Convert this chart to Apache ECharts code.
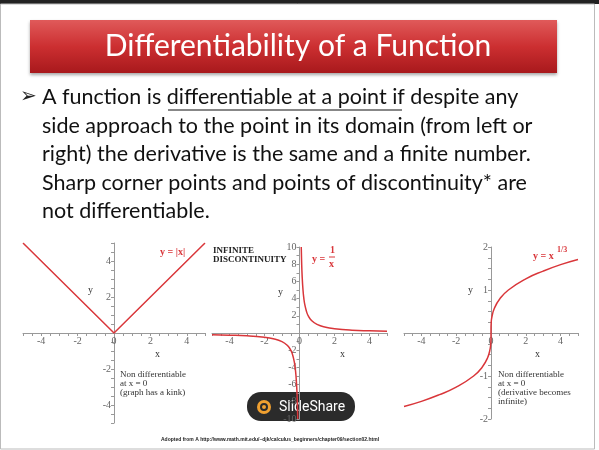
<!DOCTYPE html>
<html lang="en">
<head>
<meta charset="UTF-8">
<title>Differentiability of a Function</title>
<script src="https://cdn.jsdelivr.net/npm/echarts@6/dist/echarts.min.js"></script>
<style>html,body{margin:0;padding:0;background:#fff}</style>
</head>
<body>
<div id="main" style="width:599px;height:450px;"></div>
<script>
var chart = echarts.init(document.getElementById('main'));

// y = |x|
const absX = [-5, 0, 5];
const absY = [5, 0, 5];
// y = 1/x
const invNegX = [-5, -4, -3, -2, -1.5, -1, -0.7, -0.5, -0.4, -0.3, -0.25, -0.2, -0.15, -0.12, -0.1];
const invNegY = [-0.2, -0.25, -0.33, -0.5, -0.67, -1, -1.43, -2, -2.5, -3.33, -4, -5, -6.67, -8.33, -10];
const invPosX = [0.1, 0.12, 0.15, 0.2, 0.25, 0.3, 0.4, 0.5, 0.7, 1, 1.5, 2, 3, 4, 5];
const invPosY = [10, 8.33, 6.67, 5, 4, 3.33, 2.5, 2, 1.43, 1, 0.67, 0.5, 0.33, 0.25, 0.2];
// y = x^(1/3)
const cbrtX = [-5, -4, -3, -2, -1, -0.5, -0.2, -0.05, -0.01, -0.001, 0, 0.001, 0.01, 0.05, 0.2, 0.5, 1, 2, 3, 4, 5];
const cbrtY = [-1.71, -1.59, -1.44, -1.26, -1, -0.79, -0.58, -0.37, -0.22, -0.1, 0, 0.1, 0.22, 0.37, 0.58, 0.79, 1, 1.26, 1.44, 1.59, 1.71];

const xLabels = [-4, -2, 0, 2, 4];
const y1Labels = [-4, -2, 2, 4];
const y2Labels = [-10, -8, -6, -4, -2, 2, 4, 6, 8, 10];
const y3Labels = [-2, -1, 1, 2];

const bodyLines = [
  'A function is differentiable at a point if despite any',
  'side approach to the point in its domain (from left or',
  'right) the derivative is the same and a finite number.',
  'Sharp corner points and points of discontinuity* are',
  'not differentiable.'
];

function pairs(xs, ys) { return xs.map((x, i) => [x, ys[i]]); }
function steps(a, b, s) { const r = []; for (let v = a; v <= b + 1e-9; v += s) r.push(+v.toFixed(2)); return r; }

const serif = '"Liberation Serif", "DejaVu Serif", serif';
const grids = [
  { left: 23, top: 243, width: 182, height: 180 },
  { left: 212, top: 247, width: 175, height: 172 },
  { left: 404, top: 247, width: 174, height: 172 }
];
function xAxis(gi) {
  return {
    gridIndex: gi, type: 'value', min: -5, max: 5, position: 'bottom', offset: -grids[gi].height / 2,
    axisLine: { onZero: false, lineStyle: { color: '#999', width: 1 } },
    axisTick: { customValues: steps(-5, 5, 0.5), length: 3, lineStyle: { color: '#999' } },
    axisLabel: { customValues: xLabels, color: '#666', fontFamily: serif, fontSize: 10, margin: 3 },
    splitLine: { show: false }
  };
}
function yAxis(gi, lim, labels, step) {
  return {
    gridIndex: gi, type: 'value', min: -lim, max: lim, position: 'left', offset: -grids[gi].width / 2,
    axisLine: { onZero: false, lineStyle: { color: '#999', width: 1 } },
    axisTick: { customValues: steps(-lim, lim, step), length: 3, lineStyle: { color: '#999' } },
    axisLabel: { customValues: labels, color: '#666', fontFamily: serif, fontSize: 10, margin: 3 },
    splitLine: { show: false }
  };
}
const red = '#d9363a';
function line(gi, data, smooth) {
  return { type: 'line', xAxisIndex: gi, yAxisIndex: gi, data: data, smooth: smooth, showSymbol: false,
    lineStyle: { color: red, width: 1.5 }, silent: true };
}
function txt(x, y, s, o) {
  return { type: 'text', x: x, y: y, style: Object.assign({ text: s, fill: '#333', font: '10px ' + serif }, o || {}) };
}

const graphics = [
  { type: 'rect', shape: { x: 0, y: 0, width: 599, height: 4 }, style: { fill: '#222' } },
  { type: 'rect', shape: { x: 0.5, y: 4, width: 594, height: 445 }, style: { fill: 'none', stroke: '#bbb', lineWidth: 1 } },
  { type: 'rect', shape: { x: 30, y: 20, width: 527, height: 53 },
    style: { fill: new echarts.graphic.LinearGradient(0, 0, 0, 1, [{ offset: 0, color: '#e05a5a' }, { offset: 0.5, color: '#cc2f31' }, { offset: 1, color: '#a8191c' }]),
      shadowBlur: 3, shadowColor: 'rgba(0,0,0,0.35)', shadowOffsetY: 2 } },
  txt(298, 46, 'Differentiability of a Function', { fill: '#fff', font: '30px Lato', align: 'center', verticalAlign: 'middle' }),
  txt(20, 97, '\u27A2', { fill: '#222', font: '20px "DejaVu Sans"', verticalAlign: 'middle' }),
  { type: 'line', shape: { x1: 168, y1: 110, x2: 402, y2: 110 }, style: { stroke: '#111', lineWidth: 1.2 } },
  txt(160, 247, 'y = |x|', { fill: red, font: 'bold 10px ' + serif }),
  txt(88, 285, 'y'), txt(155, 349, 'x'), txt(278, 287, 'y'), txt(340, 349, 'x'),
  txt(468, 285, 'y'), txt(535, 349, 'x'),
  txt(120, 370, 'Non differentiable\nat x = 0\n(graph has a kink)', { lineHeight: 9, font: '9px ' + serif }),
  txt(213, 246, 'INFINITE\nDISCONTINUITY', { fill: '#222', lineHeight: 9, font: 'bold 9px ' + serif }),
  txt(312, 254, 'y =', { fill: red, font: 'bold 10px ' + serif }),
  txt(330, 245, '1', { fill: red, font: 'bold 10px ' + serif }),
  { type: 'line', shape: { x1: 329, y1: 257, x2: 335, y2: 257 }, style: { stroke: red, lineWidth: 1 } },
  txt(329, 259, 'x', { fill: red, font: 'bold 10px ' + serif }),
  txt(533, 251, 'y = x', { fill: red, font: 'bold 10px ' + serif }),
  txt(557, 246, '1/3', { fill: red, font: 'bold 8px ' + serif }),
  txt(498, 370, 'Non differentiable\nat x = 0\n(derivative becomes\ninfinite)', { lineHeight: 9, font: '9px ' + serif }),
  txt(270, 440, 'Adopted from A http://www.math.mit.edu/~djk/calculus_beginners/chapter09/section02.html',
    { fill: '#222', font: 'bold 5px "Liberation Sans"', align: 'center', verticalAlign: 'middle' }),
  { type: 'rect', shape: { x: 247, y: 392, width: 108, height: 29, r: 14 }, style: { fill: '#2b2b2b' } },
  { type: 'circle', shape: { cx: 264, cy: 407, r: 7 }, style: { fill: '#f0a030' } },
  { type: 'circle', shape: { cx: 264, cy: 407, r: 3 }, style: { fill: 'none', stroke: '#2b2b2b', lineWidth: 2 } },
  txt(279, 407, 'SlideShare', { fill: '#fff', font: '14px Roboto', verticalAlign: 'middle' })
];
bodyLines.forEach(function (s, i) {
  graphics.push(txt(42, 97 + i * 28.6, s, { fill: '#111', font: '21.5px Lato', verticalAlign: 'middle' }));
});

var option = {
  animation: false,
  grid: grids,
  xAxis: [xAxis(0), xAxis(1), xAxis(2)],
  yAxis: [yAxis(0, 5, y1Labels, 0.5), yAxis(1, 10, y2Labels, 1), yAxis(2, 2, y3Labels, 0.25)],
  series: [
    line(0, pairs(absX, absY), false),
    line(1, pairs(invNegX, invNegY), true),
    line(1, pairs(invPosX, invPosY), true),
    line(2, pairs(cbrtX, cbrtY), true)
  ],
  graphic: graphics
};
chart.setOption(option);
</script>
</body>
</html>
